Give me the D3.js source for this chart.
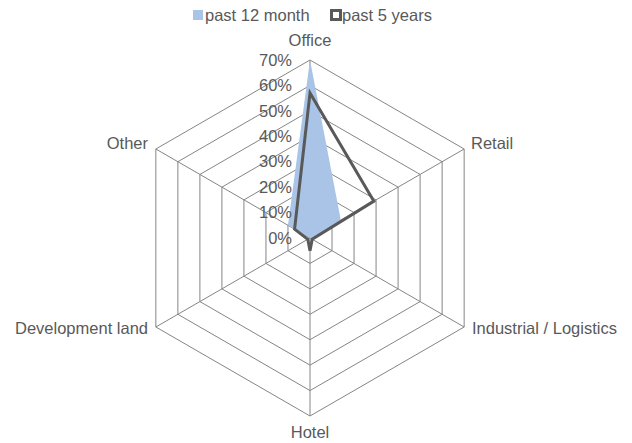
<!DOCTYPE html>
<html>
<head>
<meta charset="utf-8">
<script src="https://cdn.jsdelivr.net/npm/d3@7"></script>
<style>
  html, body { margin: 0; padding: 0; background: #fff; }
  svg { display: block; font-family: "Liberation Sans", Arial, Helvetica, sans-serif; }
</style>
</head>
<body>
<svg id="chart" width="632" height="443"></svg>
<script>
const categories = ["Office", "Retail", "Industrial / Logistics", "Hotel", "Development land", "Other"];
const past12Month = [0.70, 0.14, 0.01, 0.0, 0.0, 0.10];
const past5Years = [0.57, 0.29, 0.01, 0.05, 0.01, 0.07];
const tickValues = [0, 0.1, 0.2, 0.3, 0.4, 0.5, 0.6, 0.7];
const seriesNames = ["past 12 month", "past 5 years"];

const svg = d3.select("#chart");
const cx = 310, cy = 238, R = 178;
const r = d3.scaleLinear().domain([0, 0.7]).range([0, R]);
const angle = d3.scalePoint().domain(categories).range([0, 2 * Math.PI * 5 / 6]);
const pt = (cat, v) => {
  const a = angle(cat);
  return [cx + r(v) * Math.sin(a), cy - r(v) * Math.cos(a)];
};

const grid = svg.append("g");
tickValues.slice(1).forEach(t => {
  grid.append("path")
    .attr("d", d3.line()(categories.map(c => pt(c, t))) + "Z")
    .attr("fill", "none").attr("stroke", "#858585").attr("stroke-width", 1);
});
categories.forEach(c => {
  const p = pt(c, 0.7);
  grid.append("line").attr("x1", cx).attr("y1", cy).attr("x2", p[0]).attr("y2", p[1])
    .attr("stroke", "#858585").attr("stroke-width", 1);
});

// area series
svg.append("path")
  .attr("d", d3.line()(categories.map((c, i) => pt(c, past12Month[i]))) + "Z")
  .attr("fill", "#a9c4e6").attr("stroke", "none");

// line series
svg.append("path")
  .attr("d", d3.line()(categories.map((c, i) => pt(c, past5Years[i]))) + "Z")
  .attr("fill", "none").attr("stroke", "#595959").attr("stroke-width", 3).attr("stroke-linejoin", "miter");

// tick labels
svg.append("g").selectAll("text").data(tickValues).join("text")
  .attr("x", cx - 18).attr("y", d => cy - r(d))
  .attr("dy", "0.35em").attr("text-anchor", "end")
  .attr("font-size", 16.5).attr("fill", "#595959")
  .text(d => d3.format(".0%")(d));

// category labels
const labelPos = {
  "Office": {x: cx, y: 40, anchor: "middle"},
  "Retail": {x: 471, y: 143, anchor: "start"},
  "Industrial / Logistics": {x: 472, y: 328, anchor: "start"},
  "Hotel": {x: cx, y: 432, anchor: "middle"},
  "Development land": {x: 148, y: 328, anchor: "end"},
  "Other": {x: 148, y: 143, anchor: "end"}
};
svg.append("g").selectAll("text").data(categories).join("text")
  .attr("x", d => labelPos[d].x).attr("y", d => labelPos[d].y)
  .attr("dy", "0.35em").attr("text-anchor", d => labelPos[d].anchor)
  .attr("font-size", 16.5).attr("fill", "#595959")
  .text(d => d);

// legend
const lg = svg.append("g");
lg.append("rect").attr("x", 193).attr("y", 10).attr("width", 10).attr("height", 10).attr("fill", "#a9c4e6");
lg.append("text").attr("x", 205).attr("y", 15).attr("dy", "0.35em").attr("font-size", 16.5).attr("fill", "#595959").text(seriesNames[0]);
lg.append("rect").attr("x", 331.5).attr("y", 10.5).attr("width", 9).attr("height", 9).attr("fill", "#fff").attr("stroke", "#595959").attr("stroke-width", 3);
lg.append("text").attr("x", 342).attr("y", 15).attr("dy", "0.35em").attr("font-size", 16.5).attr("fill", "#595959").text(seriesNames[1]);
</script>
</body>
</html>
